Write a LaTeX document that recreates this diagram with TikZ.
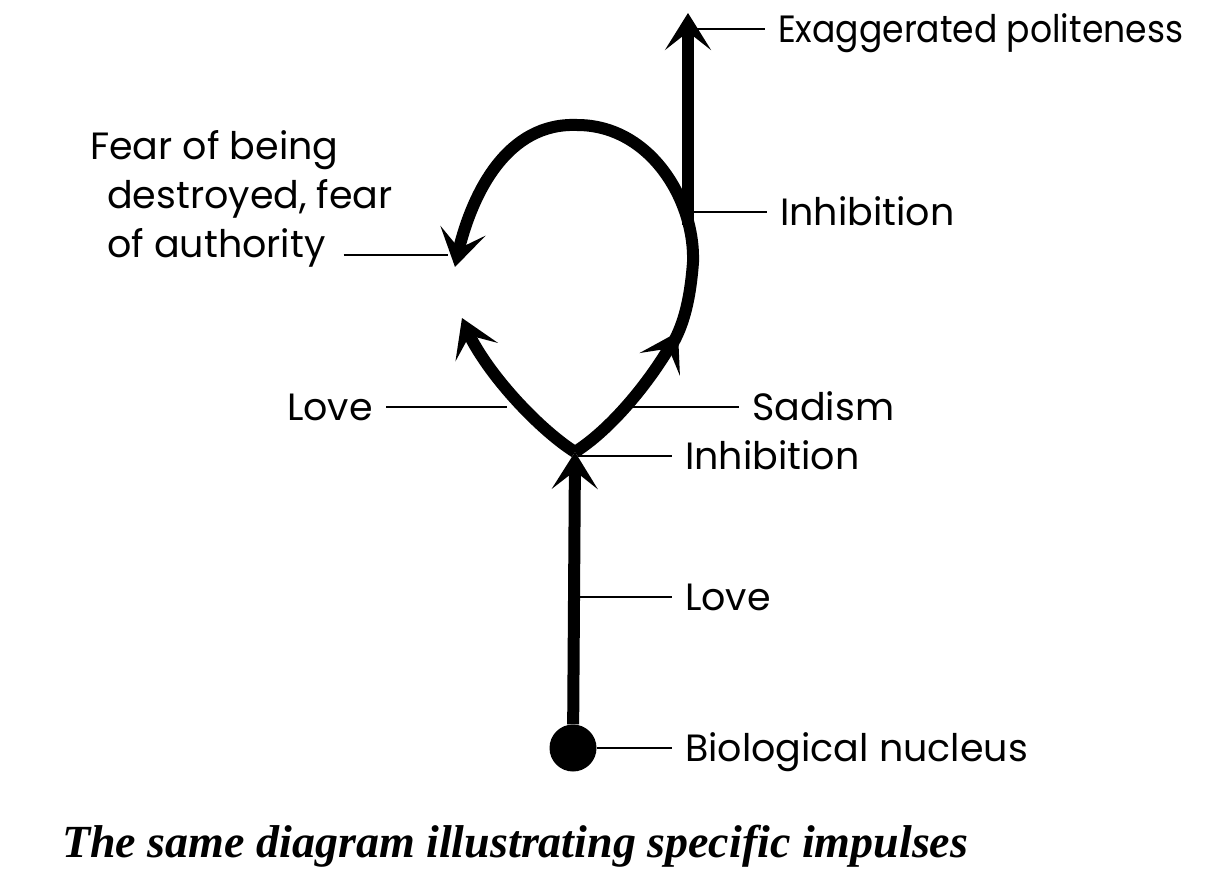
\documentclass[tikz,border=0pt]{standalone}
\usepackage{fontspec}
\setmainfont{Poppins}
\newfontfamily\narrowfont{Poppins}[FakeStretch=0.91]
\newfontfamily\capfont{Liberation Serif}
\usetikzlibrary{arrows.meta,bending}
\begin{document}
\begin{tikzpicture}[x=1pt,y=-1pt,
  flow/.style={line width=12pt},
  tipped/.style={-{Stealth[length=37pt,width=46pt,inset=18pt]}},
  leader/.style={line width=2.5pt},
  lab/.style={font=\fontsize{38}{46}\selectfont, inner xsep=13pt, inner ysep=0pt, text height=27pt, text depth=0pt}]
\useasboundingbox (0,0) rectangle (1216,880);
% nucleus and stem
\node[circle,fill,inner sep=0pt,minimum size=47pt] (nuc) at (573,748) {};
\coordinate (J) at (575,452);
\draw[flow,tipped] (nuc) -- (J);
% left branch
\coordinate (Lt) at (462,318);
\draw[flow,tipped] (J) .. controls (537,428) and (478,365) .. (Lt);
% right branch with mid arrow, then the loop
\coordinate (M) at (678,332);
\coordinate (M0) at (671,347);
\coordinate (P) at (693,262);
\coordinate (T) at (577,125);
\coordinate (F) at (455,267);
\draw[flow] (M0) .. controls (676,337) and (689,318) .. (P)
  .. controls (695,200) and (650,125) .. (T);
\draw[flow,tipped] (J) .. controls (613,428) and (655,376) .. (M);
\draw[flow,tipped] (T) .. controls (500,122) and (466,208) .. (F);
% vertical to exaggerated politeness
\coordinate (V0) at (688,225);
\coordinate (Vt) at (688,13);
\draw[flow,tipped] (V0) -- (Vt);
% labels
\coordinate (e0) at (688,29);
\node[lab,anchor=west,font=\narrowfont\fontsize{38}{46}\selectfont] (exag) at (765,29) {Exaggerated politeness};
\draw[leader] (e0) -- (exag.west);
\coordinate (i1) at (688,212);
\node[lab,anchor=west] (inh1) at (767,212) {Inhibition};
\draw[leader] (i1) -- (inh1.west);
\node[lab,anchor=base west] (fear1) at (77,160) {Fear of being};
\node[lab,anchor=base west] (fear2) at (94,208) {destroyed, fear};
\node[lab,anchor=base west] (fear3) at (94,257) {of authority};
\coordinate (f0) at (448,255);
\draw[leader] ([xshift=5pt,yshift=2pt]fear3.base east) -- (f0);
\coordinate (l0) at (507,407);
\node[lab,anchor=east] (love1) at (386,407) {Love};
\draw[leader] (love1.east) -- (l0);
\coordinate (s0) at (633,407);
\node[lab,anchor=west] (sad) at (739,407) {Sadism};
\draw[leader] (s0) -- (sad.west);
\coordinate (i2) at (578,456);
\node[lab,anchor=west] (inh2) at (672,456) {Inhibition};
\draw[leader] (i2) -- (inh2.west);
\coordinate (l2) at (576,597);
\node[lab,anchor=west] (love2) at (672,597) {Love};
\draw[leader] (l2) -- (love2.west);
\node[lab,anchor=west] (bio) at (672,748) {Biological nucleus};
\draw[leader] (nuc) -- (bio.west);
% caption
\node[anchor=base west,inner sep=0pt,font=\capfont\bfseries\itshape\fontsize{46}{54}\selectfont] (cap) at (62,857) {The same diagram illustrating specific impulses};
\end{tikzpicture}
\end{document}
